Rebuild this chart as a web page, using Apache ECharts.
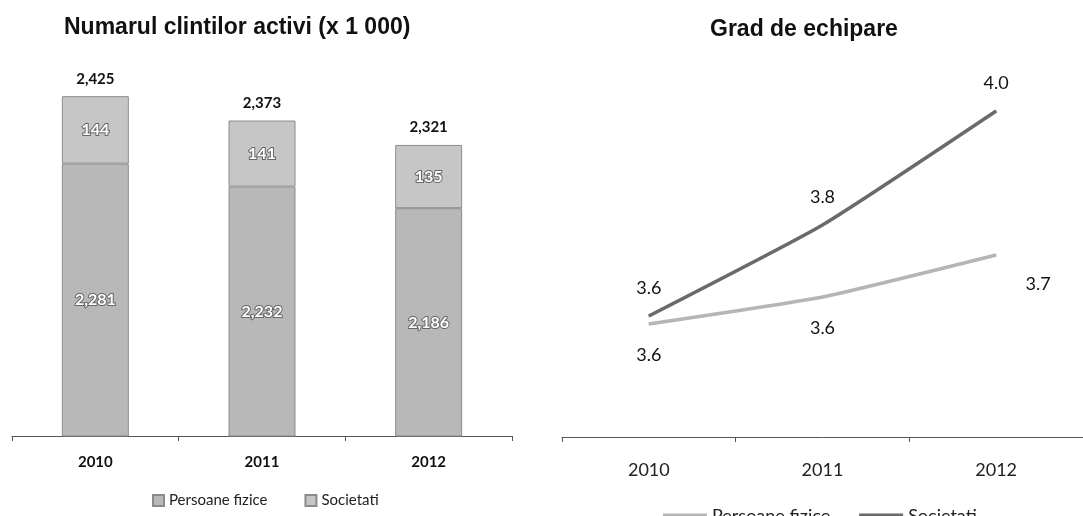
<!DOCTYPE html>
<html>
<head>
<meta charset="utf-8">
<script src="https://cdn.jsdelivr.net/npm/echarts@6/dist/echarts.min.js"></script>
<style>
html, body { margin: 0; padding: 0; background: #fff; }
.wrap { display: flex; width: 1083px; height: 516px; }
#barChart { width: 540px; height: 516px; }
#lineChart { width: 543px; height: 516px; }
</style>
</head>
<body>
<div class="wrap">
  <div id="barChart"></div>
  <div id="lineChart"></div>
</div>
<script>
// date
const years = ['2010', '2011', '2012'];
const clientiPersoane = [2281, 2232, 2186];
const clientiSocietati = [144, 141, 135];
const clientiTotal = [2425, 2373, 2321];
const gradPersoane = [3.576, 3.63, 3.714];
const gradSocietati = [3.592, 3.774, 4.002];

const fmt = v => Number(v).toLocaleString('en-US');
const labelFont = 'Lato, "Open Sans", sans-serif';
const titleFont = '"Liberation Sans", Arial, sans-serif';

// grafic stanga - bare
const barChart = echarts.init(document.getElementById('barChart'));
const insideLabel = {
  show: true,
  position: 'inside',
  color: '#fff',
  fontWeight: 'bold',
  fontSize: 16,
  fontFamily: labelFont,
  textBorderColor: '#666',
  textBorderWidth: 2,
  formatter: p => fmt(p.value)
};
barChart.setOption({
  animation: false,
  title: {
    text: 'Numarul clintilor activi (x 1 000)',
    left: 59,
    top: 11,
    textStyle: { fontFamily: titleFont, fontSize: 23, fontWeight: 'bold', color: '#111' }
  },
  legend: {
    data: ['Persoane fizice', 'Societati'],
    left: 147,
    top: 488,
    icon: 'rect',
    itemWidth: 11,
    itemHeight: 11,
    itemGap: 37,
    textStyle: { fontFamily: labelFont, fontSize: 15, color: '#222' }
  },
  grid: { left: 12, width: 500, top: 61, height: 375 },
  xAxis: {
    type: 'category',
    data: years,
    axisLine: { lineStyle: { color: '#555', width: 1 } },
    axisTick: { show: true, length: 5, lineStyle: { color: '#555' } },
    axisLabel: { margin: 19, fontFamily: labelFont, fontSize: 15, fontWeight: 'bold', color: '#111' }
  },
  yAxis: { type: 'value', min: 1700, max: 2500, show: false, splitLine: { show: false } },
  series: [
    {
      name: 'Persoane fizice',
      type: 'bar',
      stack: 'clienti',
      barWidth: 67,
      data: clientiPersoane,
      itemStyle: { color: '#b8b8b8', borderColor: '#8c8c8c', borderWidth: 1 },
      label: insideLabel
    },
    {
      name: 'Societati',
      type: 'bar',
      stack: 'clienti',
      barWidth: 67,
      data: clientiSocietati,
      itemStyle: { color: '#c6c6c6', borderColor: '#8c8c8c', borderWidth: 1 },
      label: insideLabel
    },
    {
      name: 'Total',
      type: 'bar',
      stack: 'clienti',
      barWidth: 67,
      data: clientiTotal.map(() => 0),
      itemStyle: { color: 'transparent' },
      label: {
        show: true,
        position: 'top',
        distance: 10,
        fontFamily: labelFont,
        fontSize: 15,
        fontWeight: 'bold',
        color: '#111',
        formatter: p => fmt(clientiTotal[p.dataIndex])
      }
    }
  ]
});

// grafic dreapta - linii
const lineChart = echarts.init(document.getElementById('lineChart'));
const lineLabel = {
  show: true,
  fontFamily: labelFont,
  fontSize: 18,
  color: '#111',
  formatter: p => p.value.toFixed(1)
};
lineChart.setOption({
  animation: false,
  title: {
    text: 'Grad de echipare',
    left: 165,
    top: 13,
    textStyle: { fontFamily: titleFont, fontSize: 23, fontWeight: 'bold', color: '#111' }
  },
  legend: {
    data: ['Persoane fizice', 'Societati'],
    left: 118,
    top: 502,
    icon: 'rect',
    itemWidth: 44,
    itemHeight: 5,
    itemGap: 29,
    textStyle: { fontFamily: labelFont, fontSize: 18, color: '#222' }
  },
  grid: { left: 22, right: 0, top: 62, height: 375 },
  xAxis: {
    type: 'category',
    data: years,
    axisLine: { lineStyle: { color: '#555', width: 1 } },
    axisTick: { show: true, length: 5, lineStyle: { color: '#555' } },
    axisLabel: { margin: 24, fontFamily: labelFont, fontSize: 18, color: '#222' }
  },
  yAxis: { type: 'value', min: 3.35, max: 4.1, show: false, splitLine: { show: false } },
  series: [
    {
      name: 'Persoane fizice',
      type: 'line',
      smooth: 0.15,
      symbol: 'circle',
      symbolSize: 1,
      data: gradPersoane.map((v, i) => i === 2
        ? { value: v, label: { position: 'bottom', distance: 20, offset: [42, 0] } }
        : { value: v }),
      itemStyle: { color: '#b5b5b5' },
      lineStyle: { color: '#b5b5b5', width: 3.5 },
      label: Object.assign({}, lineLabel, { position: 'bottom', distance: 22 })
    },
    {
      name: 'Societati',
      type: 'line',
      smooth: 0.15,
      symbol: 'circle',
      symbolSize: 1,
      data: gradSocietati,
      itemStyle: { color: '#6a6a6a' },
      lineStyle: { color: '#6a6a6a', width: 3.5 },
      label: Object.assign({}, lineLabel, { position: 'top', distance: 18 })
    }
  ]
});
</script>
</body>
</html>
